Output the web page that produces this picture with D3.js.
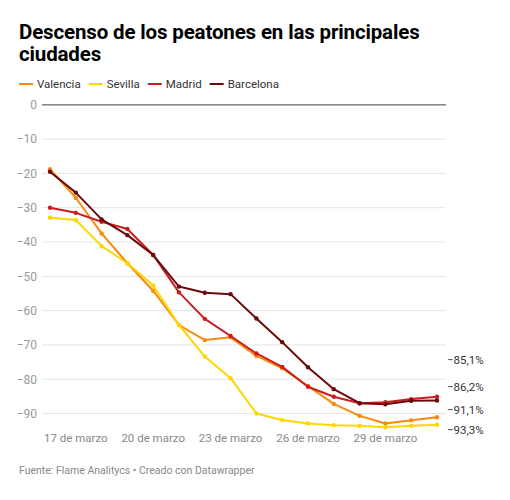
<!DOCTYPE html>
<html><head><meta charset="utf-8">
<script src="https://cdn.jsdelivr.net/npm/d3@7"></script>
<style>
body{margin:0;background:#fff;font-family:Roboto,"Noto Sans",sans-serif;}
</style></head>
<body><svg id="c" width="510" height="500"></svg>
<script>
const dates = d3.range(16, 32).map(d => new Date(2020, 2, d));
const valencia = [-18.8,-27.1,-37.5,-46.2,-54.2,-64.2,-68.6,-67.8,-73.2,-76.8,-82.0,-87.2,-90.7,-92.9,-92.0,-91.1];
const sevilla  = [-32.9,-33.6,-41.2,-46.2,-52.7,-64.2,-73.4,-79.7,-90.0,-91.9,-92.9,-93.4,-93.6,-94.0,-93.6,-93.3];
const madrid   = [-30.0,-31.5,-34.1,-36.2,-43.8,-54.7,-62.4,-67.4,-72.5,-76.4,-82.2,-85.1,-87.0,-86.7,-85.8,-85.1];
const barcelona= [-19.5,-25.6,-33.4,-38.0,-43.8,-53.0,-54.8,-55.2,-62.3,-69.2,-76.5,-82.9,-87.0,-87.3,-86.3,-86.2];
const seriesNames = ["Valencia","Sevilla","Madrid","Barcelona"];
const seriesColors = ["#f98a0c","#fed700","#c91d1f","#6a0a0a"];
const yTicks = [0,-10,-20,-30,-40,-50,-60,-70,-80,-90];
const xTickDates = [17,20,23,26,29].map(d => new Date(2020, 2, d));

const series = [valencia, sevilla, madrid, barcelona].map((v,i)=>({name:seriesNames[i],color:seriesColors[i],values:v}));

const svg = d3.select("#c");
const x = d3.scaleTime().domain([dates[0], dates[dates.length-1]]).range([50, 437]);
const y = d3.scaleLinear().domain([0,-90]).range([104.8, 413.5]);

// Title
svg.append("text").attr("x",19).attr("y",38.5).attr("font-size",20.5).attr("font-weight",700).attr("letter-spacing",-0.15).attr("fill","#000")
  .text("Descenso de los peatones en las principales");
svg.append("text").attr("x",19).attr("y",61).attr("font-size",20.5).attr("font-weight",700).attr("letter-spacing",-0.15).attr("fill","#000")
  .text("ciudades");

// Legend
let lx = 19;
series.forEach(s=>{
  svg.append("line").attr("x1",lx).attr("x2",lx+14).attr("y1",84).attr("y2",84).attr("stroke",s.color).attr("stroke-width",2);
  const t = svg.append("text").attr("x",lx+18).attr("y",88).attr("font-size",11.5).attr("fill","#333").text(s.name);
  lx += 18 + t.node().getComputedTextLength() + 8;
});

// Grid
const g = svg.append("g");
yTicks.forEach(t=>{
  g.append("line").attr("x1",42).attr("x2",446).attr("y1",y(t)).attr("y2",y(t))
    .attr("stroke", t===0 ? "#666" : "#e5e5e5").attr("stroke-width", t===0 ? 1.3 : 1);
  g.append("text").attr("x",37).attr("y",y(t)+4.3).attr("text-anchor","end").attr("font-size",12).attr("fill","#999")
    .text(t===0 ? "0" : "\u2212" + Math.abs(t));
});

// X axis labels
const fmt = d => d.getDate() + " de marzo";
xTickDates.forEach(d=>{
  svg.append("text").attr("x",x(d)).attr("y",442).attr("text-anchor","middle").attr("font-size",11.5).attr("fill","#888").text(fmt(d));
});

// Lines
const line = d3.line().x((d,i)=>x(dates[i])).y(d=>y(d));
series.forEach(s=>{
  svg.append("path").attr("d", line(s.values)).attr("fill","none").attr("stroke",s.color).attr("stroke-width",2).attr("stroke-linejoin","round");
  svg.selectAll(null).data(s.values).enter().append("circle")
    .attr("cx",(d,i)=>x(dates[i])).attr("cy",d=>y(d)).attr("r",2.2).attr("fill",s.color);
});

// End labels (shifted to avoid overlap)
const labelShift = {Valencia:-8, Sevilla:5, Madrid:-37, Barcelona:-14};
series.forEach(s=>{
  const v = s.values[s.values.length-1];
  svg.append("text").attr("x",447).attr("y",y(v)+labelShift[s.name]+4.3).attr("font-size",11.5).attr("fill","#333")
    .text("\u2212" + d3.format(".1f")(Math.abs(v)).replace(".",",") + "%");
});

// Footer
svg.append("text").attr("x",19).attr("y",474).attr("font-size",10.5).attr("fill","#888")
  .text("Fuente: Flame Analitycs \u2022 Creado con Datawrapper");
</script></body></html>
